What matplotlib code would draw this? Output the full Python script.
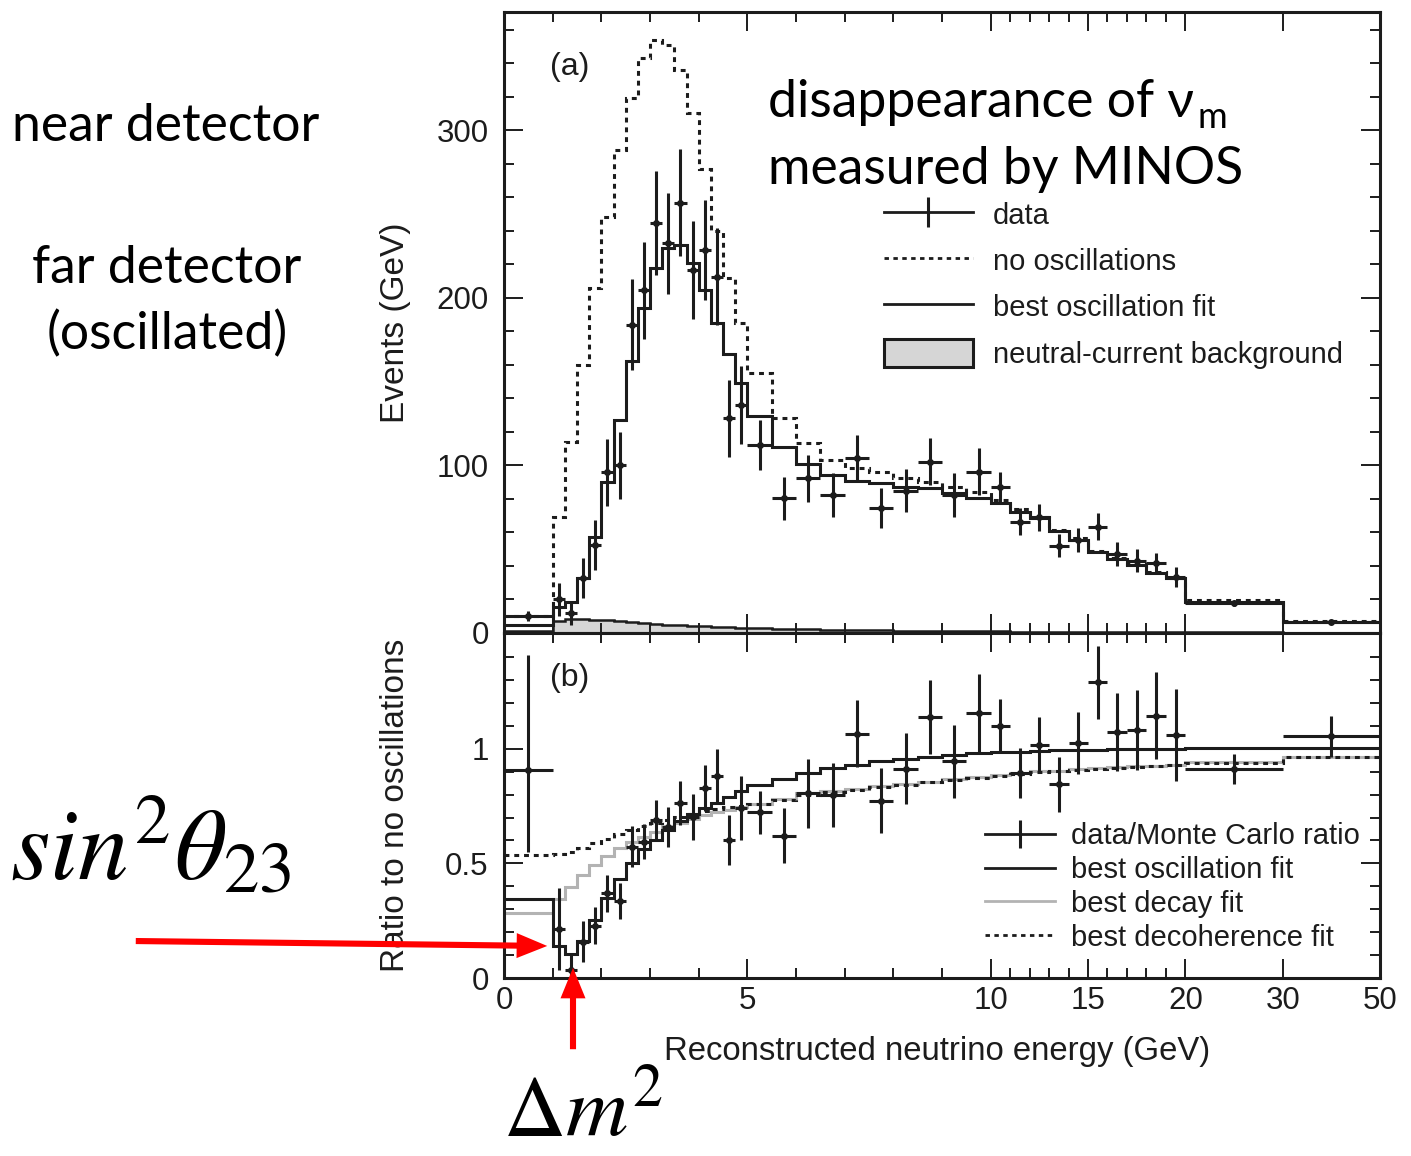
import numpy as np
import matplotlib
matplotlib.use("Agg")
import matplotlib.pyplot as plt
from matplotlib.patches import Patch, FancyArrowPatch
from matplotlib.lines import Line2D
from matplotlib.ticker import FixedLocator, MultipleLocator

# ---------------- data ----------------
bin_edges = [0, 1, 1.25, 1.5, 1.75, 2, 2.25, 2.5, 2.75, 3, 3.25, 3.5, 3.75, 4, 4.25, 4.5,
             4.75, 5, 5.5, 6, 6.5, 7, 7.5, 8, 8.5, 9, 9.5, 10, 11, 12, 13, 14, 15, 16,
             17, 18, 19, 20, 30, 50]

no_oscillations = [10, 69, 114, 160, 206, 248, 288, 319, 343, 354, 351, 336, 310, 277, 240,
                   212, 185, 155, 128, 113.5, 103, 98.5, 96, 92.5, 90, 87, 84, 79.5, 74,
                   69.5, 61.5, 56.5, 49, 44.5, 41, 36.5, 33, 19.7, 7.3]
best_osc_fit = [4.5, 15.7, 18.7, 32.6, 57.5, 90, 127, 162, 194, 217.6, 229.5, 231.5, 221,
                204.7, 185, 166.5, 149, 129.5, 110.8, 100.8, 94.3, 90.9, 89.3, 86.9, 86.3,
                83.3, 80.3, 77.4, 72.4, 68.4, 60.9, 55.5, 48.5, 44, 40.6, 36, 32.6, 18.7, 6.8]
nc_background = [1.0, 7, 8.5, 8.5, 8, 7.5, 7, 6.5, 6, 5.5, 5, 4.6, 4.3, 4, 3.7, 3.4, 3.1,
                 2.8, 2.4, 2.1, 1.9, 1.7, 1.5, 1.3, 1.2, 1.1, 1.0, 0.9, 0.8, 0.7, 0.6, 0.6,
                 0.5, 0.5, 0.4, 0.4, 0.4, 0.3, 0.2]
data_events = [10, 20, 12, 32.6, 52.5, 96, 100, 184, 204.5, 244.4, 232.5, 256.7, 216.6,
               228.5, 212.6, 128, 136, 112, 80.3, 92.3, 82.3, 104.2, 74.4, 84.9, 102.2,
               82.3, 96.2, 86.9, 66.4, 69, 52.1, 55.5, 63.4, 47.1, 43.1, 41.6, 33.6, 17.7, 6.7]
data_events_err = [3, 10, 7, 12, 15, 20, 20, 27, 29, 31, 30, 32, 29, 30, 29, 23, 23, 15, 13,
                   14, 13, 14, 12, 13, 14, 13, 14, 9, 8, 8, 7, 7, 8, 7, 7, 6, 6, 1.3, 0.6]

ratio_data = [0.908, 0.213, 0.035, 0.159, 0.228, 0.37, 0.336, 0.573, 0.595, 0.69, 0.66,
              0.763, 0.704, 0.828, 0.882, 0.603, 0.741, 0.722, 0.62, 0.806, 0.799, 1.066,
              0.774, 0.913, 1.138, 0.945, 1.156, 1.098, 0.894, 1.017, 0.846, 1.025, 1.29,
              1.073, 1.083, 1.144, 1.061, 0.911, 1.054]
ratio_err_lo = [0.36, 0.18, 0.07, 0.09, 0.08, 0.08, 0.08, 0.09, 0.075, 0.087, 0.087, 0.095,
                0.1, 0.1, 0.115, 0.11, 0.14, 0.095, 0.12, 0.15, 0.14, 0.145, 0.14, 0.155,
                0.16, 0.16, 0.17, 0.117, 0.11, 0.12, 0.12, 0.135, 0.16, 0.17, 0.175, 0.19,
                0.2, 0.065, 0.09]
ratio_err_hi = [0.50, 0.18, 0.07, 0.09, 0.08, 0.08, 0.08, 0.09, 0.075, 0.087, 0.087, 0.095,
                0.1, 0.1, 0.115, 0.11, 0.14, 0.095, 0.12, 0.15, 0.14, 0.145, 0.14, 0.155,
                0.16, 0.16, 0.17, 0.117, 0.11, 0.12, 0.12, 0.135, 0.16, 0.17, 0.175, 0.19,
                0.2, 0.065, 0.09]
ratio_osc_fit = [0.343, 0.14, 0.105, 0.162, 0.253, 0.348, 0.431, 0.501, 0.562, 0.603, 0.646,
                 0.683, 0.716, 0.741, 0.763, 0.789, 0.814, 0.84, 0.866, 0.894, 0.916, 0.93,
                 0.945, 0.956, 0.964, 0.972, 0.981, 0.985, 0.988, 0.99, 0.993, 0.995, 0.996,
                 0.998, 0.999, 0.999, 1.0, 1.003, 1.003]
ratio_decay_fit = [0.285, 0.343, 0.399, 0.45, 0.493, 0.533, 0.566, 0.595, 0.617, 0.639,
                   0.661, 0.678, 0.694, 0.709, 0.722, 0.734, 0.745, 0.76, 0.78, 0.806, 0.814,
                   0.824, 0.836, 0.847, 0.857, 0.868, 0.876, 0.886, 0.894, 0.901, 0.905,
                   0.91, 0.916, 0.92, 0.923, 0.926, 0.931, 0.941, 0.964]
ratio_decoh_fit = [0.537, 0.54, 0.548, 0.565, 0.587, 0.607, 0.628, 0.647, 0.664, 0.678,
                   0.691, 0.704, 0.717, 0.727, 0.737, 0.745, 0.752, 0.76, 0.776, 0.8, 0.81,
                   0.82, 0.833, 0.844, 0.854, 0.864, 0.873, 0.883, 0.891, 0.898, 0.903,
                   0.908, 0.913, 0.918, 0.921, 0.924, 0.928, 0.938, 0.962]

x_major_ticks = [0, 5, 10, 15, 20, 30, 50]
x_tick_labels = ["0", "5", "10", "15", "20", "30", "50"]

# ---------------- setup ----------------
W, H = 1411, 1156
DPI = 100
plt.rcParams['font.family'] = ['Liberation Sans', 'DejaVu Sans']
plt.rcParams['mathtext.fontset'] = 'stix'
INK = '#1c1c1c'

edges = np.array(bin_edges)
centers = 0.5 * (edges[:-1] + edges[1:])
halfw = 0.5 * np.diff(edges)

# piecewise-linear energy axis (0-10 full, 10-20 x0.4, 20-30 x0.2, 30-50 x0.1)
brk_e = np.array([0, 10, 20, 30, 50], float)
brk_t = np.array([0, 10, 14, 16, 18], float)

def fwd(x):
    x = np.asarray(x, float)
    y = np.interp(x, brk_e, brk_t)
    y = np.where(x < 0, x, y)
    y = np.where(x > 50, 18 + (x - 50) * 0.1, y)
    return y

def inv(t):
    t = np.asarray(t, float)
    y = np.interp(t, brk_t, brk_e)
    y = np.where(t < 0, t, y)
    y = np.where(t > 18, 50 + (t - 18) * 10, y)
    return y

def fx(px):
    return px / W

def fy(py):
    return 1 - py / H

fig = plt.figure(figsize=(W / DPI, H / DPI), dpi=DPI)
ax_left, ax_right = 504, 1380
ax_a = fig.add_axes([fx(ax_left), fy(633), fx(ax_right - ax_left), (633 - 12) / H])
ax_b = fig.add_axes([fx(ax_left), fy(978), fx(ax_right - ax_left), (978 - 633) / H],
                    sharex=ax_a)

for ax in (ax_a, ax_b):
    ax.set_xscale('function', functions=(fwd, inv))
    ax.set_xlim(0, 50)
    for s in ax.spines.values():
        s.set_linewidth(2.2)
        s.set_color(INK)
    ax.tick_params(which='both', direction='in', top=True, right=True, color=INK,
                   width=1.4)
    ax.tick_params(which='major', length=14)
    ax.tick_params(which='minor', length=7)
    ax.xaxis.set_major_locator(FixedLocator(x_major_ticks))
    ax.xaxis.set_minor_locator(FixedLocator(list(range(1, 10)) + list(range(11, 20))))

LW = 2.2
DOT = (0, (1.6, 1.6))
# ---------------- panel (a) ----------------
ax_a.stairs(nc_background, edges, baseline=0, fill=True, facecolor='#d6d6d6',
            edgecolor='none')
ax_a.stairs(nc_background, edges, baseline=None, color=INK, lw=1.8)
ax_a.stairs(no_oscillations, edges, baseline=None, color=INK, lw=LW, linestyle=DOT)
ax_a.stairs(best_osc_fit, edges, baseline=None, color=INK, lw=LW)
ax_a.errorbar(centers, data_events, yerr=data_events_err, xerr=halfw, fmt='o', ms=4,
              color=INK, ecolor=INK, elinewidth=2.2, capsize=0)
ax_a.set_ylim(0, 370.5)
ax_a.yaxis.set_major_locator(FixedLocator([0, 100, 200, 300]))
ax_a.yaxis.set_minor_locator(MultipleLocator(20))
ax_a.tick_params(axis='x', which='both', labelbottom=False)
ax_a.tick_params(axis='y', labelsize=22.5, pad=11, labelcolor=INK)
ax_a.set_ylabel('Events (GeV)', fontsize=24, color=INK)
ax_a.yaxis.set_label_coords(-0.106, 0.5)
ax_a.text(0.052, 0.911, '(a)', transform=ax_a.transAxes, fontsize=23, color=INK,
          va='center')

handles_a = [Line2D([], [], color=INK, lw=2.0, marker='|', ms=22, mew=2.2),
             Line2D([], [], color=INK, lw=2.0, linestyle=DOT),
             Line2D([], [], color=INK, lw=2.0),
             Patch(facecolor='#d6d6d6', edgecolor=INK, lw=2.2)]
labels_a = ['data', 'no oscillations', 'best oscillation fit', 'neutral-current background']
ax_a.legend(handles_a, labels_a, loc='upper left', frameon=False, fontsize=21,
            bbox_to_anchor=(fx(884), fy(200)), bbox_transform=fig.transFigure,
            borderpad=0, borderaxespad=0, handlelength=3.05, handleheight=1.1,
            handletextpad=0.68, labelspacing=0.56, labelcolor=INK)

# ---------------- panel (b) ----------------
ax_b.stairs(ratio_decay_fit, edges, baseline=None, color='#b3b3b3', lw=LW)
ax_b.stairs(ratio_decoh_fit, edges, baseline=None, color=INK, lw=LW, linestyle=DOT)
ax_b.stairs(ratio_osc_fit, edges, baseline=None, color=INK, lw=LW)
ax_b.errorbar(centers, ratio_data, yerr=[ratio_err_lo, ratio_err_hi], xerr=halfw, fmt='o',
              ms=4, color=INK, ecolor=INK, elinewidth=2.2, capsize=0)
ax_b.set_ylim(0, 1.505)
ax_b.yaxis.set_major_locator(FixedLocator([0, 0.5, 1.0]))
ax_b.yaxis.set_minor_locator(MultipleLocator(0.1))
ax_b.set_yticklabels(['0', '0.5', '1'])
ax_b.set_xticks(x_major_ticks)
ax_b.set_xticklabels(x_tick_labels)
ax_b.tick_params(axis='y', labelsize=22.5, pad=11, labelcolor=INK)
ax_b.tick_params(axis='x', labelsize=22.5, pad=6, labelcolor=INK)
ax_b.set_ylabel('Ratio to no oscillations', fontsize=24, color=INK)
ax_b.yaxis.set_label_coords(-0.106, 0.5)
ax_b.set_xlabel('Reconstructed neutrino energy (GeV)', fontsize=23.7, color=INK)
ax_b.xaxis.set_label_coords(0.494, -0.168)
ax_b.text(0.052, 0.87, '(b)', transform=ax_b.transAxes, fontsize=23, color=INK,
          va='center')

handles_b = [Line2D([], [], color=INK, lw=2.0, marker='|', ms=20, mew=2.2),
             Line2D([], [], color=INK, lw=2.0),
             Line2D([], [], color='#b3b3b3', lw=2.0),
             Line2D([], [], color=INK, lw=2.0, linestyle=DOT)]
labels_b = ['data/Monte Carlo ratio', 'best oscillation fit', 'best decay fit',
            'best decoherence fit']
ax_b.legend(handles_b, labels_b, loc='upper left', frameon=False, fontsize=21,
            bbox_to_anchor=(fx(985), fy(822)), bbox_transform=fig.transFigure,
            borderpad=0, borderaxespad=0, handlelength=2.4, handleheight=0.7,
            handletextpad=0.55, labelspacing=0.2, labelcolor=INK)

# ---------------- slide annotations ----------------
BIG = ['Lato', 'DejaVu Sans']
BS = 37.3
fig.text(fx(12), fy(141), 'near detector', fontsize=BS, family=BIG, va='baseline',
         ha='left')
fig.text(fx(167), fy(283), 'far detector', fontsize=BS, family=BIG, va='baseline',
         ha='center')
fig.text(fx(167), fy(349), '(oscillated)', fontsize=BS, family=BIG, va='baseline',
         ha='center')
t_dis = fig.text(fx(768), fy(117), 'disappearance of ν', fontsize=BS, family=BIG,
                 va='baseline', ha='left')
fig.text(fx(768), fy(184), 'measured by MINOS', fontsize=BS, family=BIG,
         va='baseline', ha='left')

fig.text(fx(10), fy(880), r'$sin^2\theta_{23}$', fontsize=73, va='baseline', ha='left')
t_dm = fig.text(fx(503), fy(1146), r'$\Delta m^2$', fontsize=62, va='baseline',
                ha='left')

fig.canvas.draw()
bb = t_dis.get_window_extent()
fig.text((bb.x1 + 3) / W, fy(128), 'm', fontsize=26, family=BIG, va='baseline',
         ha='left')
# keep the Δm² label fully inside the canvas
bb_dm = t_dm.get_window_extent()
if bb_dm.y0 < 1:
    t_dm.set_y(t_dm.get_position()[1] + (1 - bb_dm.y0) / H)

arrow_style = 'simple,head_length=1.1,head_width=0.9,tail_width=0.22'
fig.add_artist(FancyArrowPatch((fx(133), fy(941)), (fx(550), fy(946)),
                               transform=fig.transFigure, arrowstyle=arrow_style,
                               mutation_scale=20, color='#ff0000', lw=0))
fig.add_artist(FancyArrowPatch((fx(573), fy(1052)), (fx(573), fy(965)),
                               transform=fig.transFigure, arrowstyle=arrow_style,
                               mutation_scale=20, color='#ff0000', lw=0))

fig.savefig('out.png', dpi=DPI)
